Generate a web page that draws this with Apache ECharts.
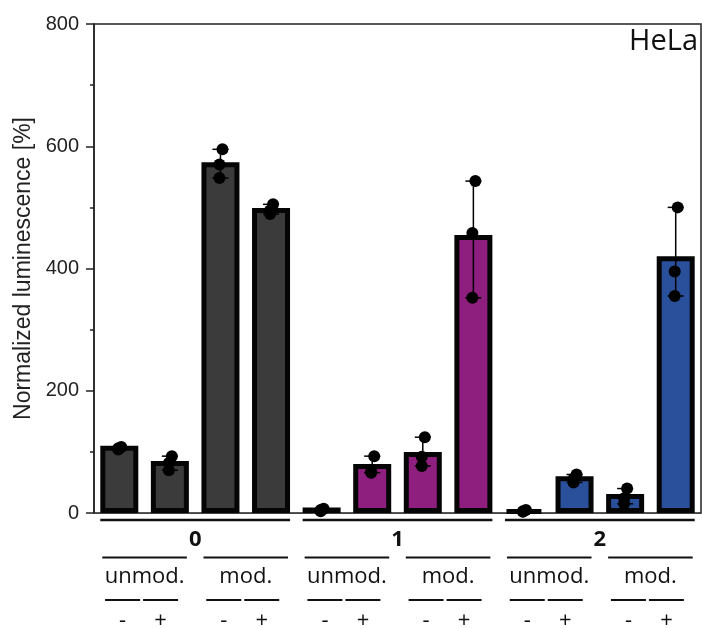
<!DOCTYPE html>
<html><head><meta charset="utf-8">
<script src="https://cdn.jsdelivr.net/npm/echarts@6/dist/echarts.min.js"></script>
<style>html,body{margin:0;padding:0;background:#fff}#c{width:702px;height:628px}</style>
</head><body><div id="c"></div>
<script>
// ---- data ----
const groups = ['0', '1', '2'];
const modLabels = ['unmod.', 'mod.'];
const treatLabels = ['-', '+'];
const means = [110, 85, 574, 499, 9, 80, 100, 455, 5, 60, 31, 420];
const rep1 = [108, 93, 595, 505, 7, 93, 124, 543, 5, 63, 40, 500];
const rep2 = [106, 82, 570, 495, 5, 68, 92, 458, 3, 56, 24, 395];
const rep3 = [104, 70, 548, 489, 3, 66, 77, 352, 2, 50, 15, 355];
const yTickLabels = ['0', '200', '400', '600', '800'];
const groupColors = ['#3b3b3b', '#8e1f7e', '#2a509c'];

// ---- build ----
const categories = [];
groups.forEach(g => modLabels.forEach(m => treatLabels.forEach(t => categories.push(g + '|' + m + '|' + t))));
const perGroup = modLabels.length * treatLabels.length;
const reps = [rep1, rep2, rep3];
const errData = categories.map((c, i) => {
  const vals = reps.map(r => r[i]);
  return [i, Math.min(...vals), Math.max(...vals)];
});

const chart = echarts.init(document.getElementById('c'), null, {renderer: 'canvas'});
const axisColor = '#222';
chart.setOption({
  animation: false,
  backgroundColor: '#fff',
  title: {
    text: 'HeLa', right: 4, top: 27, padding: 0,
    textStyle: {fontFamily: '"Open Sans"', fontSize: 29, fontWeight: 'normal', color: '#111'}
  },
  grid: {left: 94, right: 1, top: 24, bottom: 115, show: true, borderColor: axisColor, borderWidth: 1.5, containLabel: false, outerBoundsMode: 'none'},
  xAxis: {
    type: 'category', data: categories,
    axisLabel: {show: false}, axisTick: {show: false},
    axisLine: {lineStyle: {color: '#444', width: 1}}
  },
  yAxis: {
    type: 'value', min: 0, max: 800, interval: 200,
    axisLine: {show: true, lineStyle: {color: axisColor, width: 1.5}},
    axisTick: {show: true, length: 8, lineStyle: {color: axisColor, width: 1.5}},
    minorTick: {show: true, splitNumber: 2, length: 4, lineStyle: {color: axisColor, width: 1.5}},
    splitLine: {show: false},
    axisLabel: {
      fontFamily: '"Liberation Sans", Arial, sans-serif', fontSize: 20, color: '#222', margin: 15,
      formatter: v => yTickLabels[Math.round(v / 200)] ?? ''
    },
    name: 'Normalized luminescence [%]', nameLocation: 'middle', nameGap: 57,
    nameTextStyle: {fontFamily: '"Liberation Sans", Arial, sans-serif', fontSize: 23, color: '#222'}
  },
  series: [
    {
      type: 'bar', z: 2, barWidth: 38,
      data: means.map((v, i) => ({value: v, itemStyle: {color: groupColors[Math.floor(i / perGroup)]}})),
      itemStyle: {borderColor: '#050505', borderWidth: 5}
    },
    {
      type: 'custom', z: 3, data: errData, encode: {x: 0, y: [1, 2]},
      renderItem: (params, api) => {
        const lo = api.coord([api.value(0), api.value(1)]);
        const hi = api.coord([api.value(0), api.value(2)]);
        const hw = 8;
        const st = {stroke: '#000', lineWidth: 1.5};
        return {type: 'group', children: [
          {type: 'line', shape: {x1: lo[0], y1: lo[1], x2: hi[0], y2: hi[1]}, style: st},
          {type: 'line', shape: {x1: hi[0] - hw, y1: hi[1], x2: hi[0] + hw, y2: hi[1]}, style: st},
          {type: 'line', shape: {x1: lo[0] - hw, y1: lo[1], x2: lo[0] + hw, y2: lo[1]}, style: st}
        ]};
      }
    },
    {type: 'scatter', z: 4, data: rep1, symbolSize: 12, symbolOffset: [2, 0], itemStyle: {color: '#000', opacity: 1}},
    {type: 'scatter', z: 4, data: rep2, symbolSize: 12, symbolOffset: [-1, 0], itemStyle: {color: '#000', opacity: 1}},
    {type: 'scatter', z: 4, data: rep3, symbolSize: 12, symbolOffset: [-1, 0], itemStyle: {color: '#000', opacity: 1}}
  ]
});

// ---- hierarchical x labels ----
const cx = i => chart.convertToPixel({xAxisIndex: 0}, categories[i]);
const y0 = chart.convertToPixel({yAxisIndex: 0}, 0);
const g = [];
const lineEl = (x1, x2, y, w) => ({type: 'line', silent: true, shape: {x1, y1: y, x2, y2: y}, style: {stroke: '#111', lineWidth: w}});
const textEl = (t, x, y, size, weight) => ({type: 'text', silent: true, x, y, style: {text: t, fontFamily: '"Open Sans"', fontSize: size, fontWeight: weight || 'normal', fill: '#111', align: 'center', verticalAlign: 'middle'}});
groups.forEach((gl, gi) => {
  const b = gi * perGroup;
  g.push(lineEl(cx(b) - 19, cx(b + perGroup - 1) + 19, y0 + 7, 2.5));
  g.push(textEl(gl, (cx(b + 1) + cx(b + 2)) / 2, y0 + 27, 22, 'bold'));
  modLabels.forEach((ml, mi) => {
    const s = b + mi * treatLabels.length;
    const l = cx(s) - 17, r = cx(s + 1) + 17, c = (l + r) / 2;
    g.push(lineEl(l, r, y0 + 44.5, 2));
    g.push(textEl(ml, c, y0 + 64, 22));
    treatLabels.forEach((tl, ti) => {
      const sc = c - 3 + (ti === 0 ? -19 : 19);
      g.push(lineEl(sc - 17.5, sc + 17.5, y0 + 87, 2));
      g.push(textEl(tl, sc, y0 + 108, 22));
    });
  });
});
chart.setOption({graphic: g});
</script>
</body></html>
